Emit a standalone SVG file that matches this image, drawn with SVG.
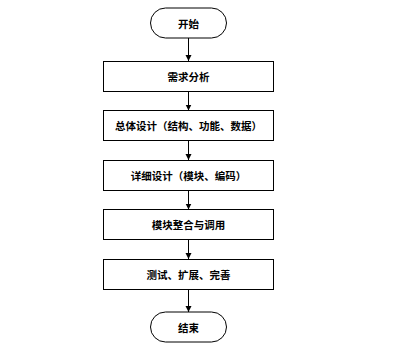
<svg xmlns="http://www.w3.org/2000/svg" width="413" height="347" viewBox="0 0 413 347">
<style>
.n{fill:#fff;stroke:#000;stroke-width:1}
.t{font-family:"Noto Sans CJK SC","Noto Sans CJK JP",sans-serif;font-size:10.5px;font-weight:bold;fill:#000;text-anchor:middle;dominant-baseline:central}
.c{stroke:#000;stroke-width:1;fill:none;marker-end:url(#ah)}
</style>
<defs>
<marker id="ah" markerWidth="8" markerHeight="8" refX="6" refY="3" orient="auto" markerUnits="userSpaceOnUse">
<path d="M0,0 L6,3 L0,6 Z" fill="#000"/>
</marker>
</defs>
<rect width="413" height="347" fill="#fff"/>
<g id="connectors">
<line class="c" x1="188.5" y1="38" x2="188.5" y2="61"/>
<line class="c" x1="188.5" y1="91.5" x2="188.5" y2="110.5"/>
<line class="c" x1="188.5" y1="140.5" x2="188.5" y2="160"/>
<line class="c" x1="188.5" y1="190.5" x2="188.5" y2="209.5"/>
<line class="c" x1="188.5" y1="239.5" x2="188.5" y2="259"/>
<line class="c" x1="188.5" y1="289.5" x2="188.5" y2="312"/>
</g>
<g id="start"><rect class="n" x="150.5" y="8" width="76" height="30" rx="15" ry="15"/><text class="t" x="188.5" y="23">开始</text></g>
<g id="n1"><rect class="n" x="103.5" y="61.5" width="170" height="30"/><text class="t" x="188.5" y="76.5">需求分析</text></g>
<g id="n2"><rect class="n" x="103.5" y="110.5" width="170" height="30"/><text class="t" x="188.5" y="125.5">总体设计（结构、功能、数据）</text></g>
<g id="n3"><rect class="n" x="103.5" y="160.5" width="170" height="30"/><text class="t" x="188.5" y="175.5">详细设计（模块、编码）</text></g>
<g id="n4"><rect class="n" x="103.5" y="209.5" width="170" height="30"/><text class="t" x="188.5" y="224.5">模块整合与调用</text></g>
<g id="n5"><rect class="n" x="103.5" y="259.5" width="170" height="30"/><text class="t" x="188.5" y="274.5">测试、扩展、完善</text></g>
<g id="end"><rect class="n" x="150.5" y="312" width="76" height="30" rx="15" ry="15"/><text class="t" x="188.5" y="327">结束</text></g>
</svg>
